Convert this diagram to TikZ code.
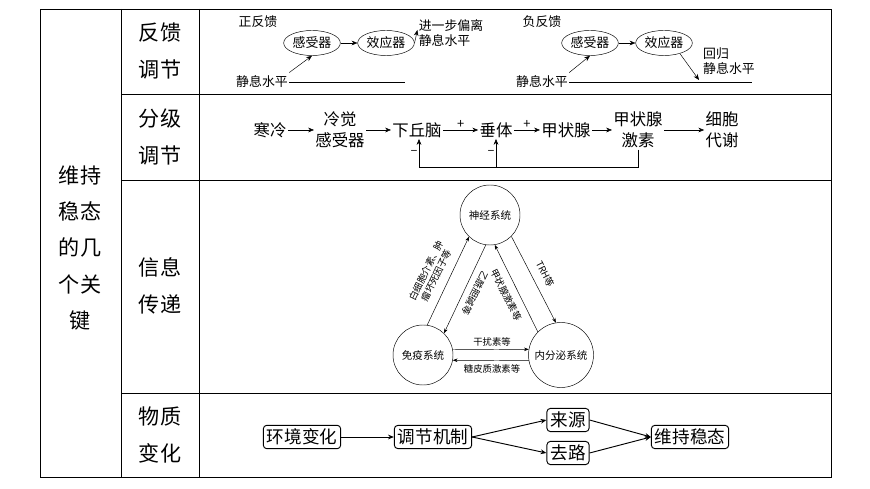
\documentclass[tikz,border=0pt]{standalone}
\usepackage{fontspec}
\setmainfont{Noto Sans CJK SC}
\usetikzlibrary{arrows.meta,positioning,shapes.geometric}
\begin{document}
\begin{tikzpicture}[x=0.03cm,y=-0.03cm,
  big/.style={font=\fontsize{18}{31}\selectfont, align=center},
  small/.style={font=\fontsize{11}{13}\selectfont, inner sep=1pt},
  flow/.style={font=\fontsize{14}{18}\selectfont, align=center, inner sep=1pt},
  tri/.style={font=\fontsize{8}{9.5}\selectfont, inner sep=1pt, align=center},
  organ/.style={ellipse, draw, minimum width=1.7cm, minimum height=0.75cm, inner sep=0pt, font=\fontsize{11}{13}\selectfont},
  sys/.style={circle, draw, minimum size=1.8cm, inner sep=0pt, font=\fontsize{9}{11}\selectfont},
  box/.style={rectangle, rounded corners=3pt, draw, thick, inner sep=3pt, font=\fontsize{15}{18}\selectfont},
  arr/.style={-{Stealth[length=5pt,width=4pt]}},
  tarr/.style={-{Stealth[length=4pt,width=3pt]}, thin}]
\useasboundingbox (0,0) rectangle (870,489);
% table
\draw (40,9) rectangle (831,477);
\draw (121,9) -- (121,477);
\draw (199,9) -- (199,477);
\foreach \y in {94,180,393} \draw (121,\y) -- (831,\y);
\node[big] (key) at (80,248) {维持\\稳态\\的几\\个关\\键};
\node[big] (fk) at (160,51) {反馈\\调节};
\node[big] (fj) at (160,137) {分级\\调节};
\node[big] (xx) at (160,286) {信息\\传递};
\node[big] (wz) at (160,435) {物质\\变化};

% positive feedback
\node[small] (zf) at (258,22) {正反馈};
\node[organ] (s1) at (312,43) {感受器};
\node[organ] (e1) at (386,43) {效应器};
\node[small, align=left] (dev) at (451,33) {进一步偏离\\静息水平};
\node[small] (r1) at (262,82) {静息水平};
\coordinate (l1) at (405,82);
\draw (r1) -- (l1);
\draw[arr] (r1.north east) ++(0,-2) -- (s1.south);
\draw[arr] (s1) -- (e1);
\draw[arr] (e1.east) -- (dev.west |- 0,30);

% negative feedback
\node[small] (ff) at (542,22) {负反馈};
\node[organ] (s2) at (590,43) {感受器};
\node[organ] (e2) at (664,43) {效应器};
\node[small, align=left] (back) at (729,61) {回归\\静息水平};
\node[small] (r2) at (542,82) {静息水平};
\coordinate (l2) at (752,82);
\draw (r2) -- (l2);
\draw[arr] (r2.north east) ++(0,-2) -- (s2.south);
\draw[arr] (s2) -- (e2);
\draw[arr] (e2.south east) ++(-4,2) -- (699,80);

% hierarchy
\node[flow] (hl) at (270,130) {寒冷};
\node[flow] (lg) at (340,130) {冷觉\\感受器};
\node[flow] (xq) at (417,130) {下丘脑};
\node[flow] (ct) at (496,130) {垂体};
\node[flow] (jz) at (566,130) {甲状腺};
\node[flow] (js) at (638,130) {甲状腺\\激素};
\node[flow] (xb) at (722,130) {细胞\\代谢};
\draw[arr] (hl) -- (lg);
\draw[arr] (lg) -- (xq);
\draw[arr] (xq) -- node[above, small]{+} (ct);
\draw[arr] (ct) -- node[above, small]{+} (jz);
\draw[arr] (jz) -- (js);
\draw[arr] (js) -- (xb);
\coordinate (fb) at (638,167);
\draw (js) -- (fb) -- (419,167);
\draw[arr] (419,167) -- (xq.south -| 419,0) node[pos=0.5, left, small]{--};
\draw[arr] (496,167) -- (ct.south) node[pos=0.5, left, small]{--};

% signals
\node[sys] (neu) at (490,215) {神经系统};
\node[sys] (imm) at (423,355) {免疫系统};
\node[sys, minimum size=1.95cm] (end) at (561,355) {内分泌系统};
\draw[tarr] (imm.82) -- (neu.226);
\draw[tarr] (neu.262) -- (imm.46);
\draw[tarr] (neu.-45) -- (end.99);
\draw[tarr] (end.135) -- (neu.-81);
\draw[tarr] (imm.10) -- (end.170);
\draw[tarr] (end.190) -- (imm.350);
\node[tri, rotate=64] (la) at (431,273) {白细胞介素、肿\\瘤坏死因子等};
\node[tri, rotate=244] (lb) at (475,293) {乙酰胆碱等};
\node[tri, rotate=-63] (lc) at (506,295) {甲状腺激素等};
\node[tri, rotate=-63] (ld) at (545,274) {TRH等};
\node[tri] (le) at (492,342) {干扰素等};
\node[tri] (lf) at (492,369) {糖皮质激素等};

% material
\node[box] (hj) at (302,437) {环境变化};
\node[box] (tj) at (433,437) {调节机制};
\node[box] (ly) at (568,420) {来源};
\node[box] (ql) at (568,453) {去路};
\node[box] (wc) at (690,437) {维持稳态};
\draw[arr, thick] (hj) -- (tj);
\draw[arr, thick] (tj.east) -- (ly.west);
\draw[arr, thick] (tj.east) -- (ql.west);
\draw[arr, thick] (ly.east) -- (wc.west);
\draw[arr, thick] (ql.east) -- (wc.west);
\end{tikzpicture}
\end{document}
